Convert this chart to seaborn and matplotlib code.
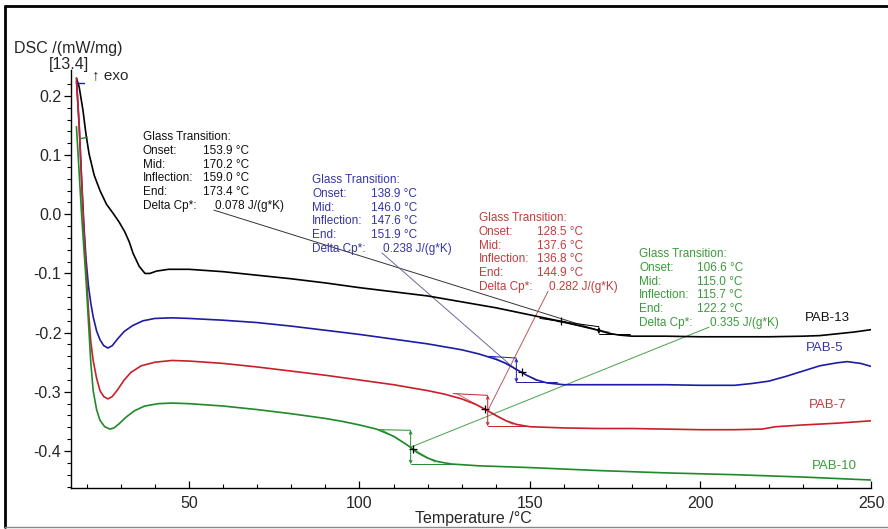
import numpy as np
import pandas as pd
import seaborn as sns
import matplotlib.pyplot as plt
from matplotlib.ticker import MultipleLocator, FormatStrFormatter
from matplotlib.lines import Line2D

# DSC curves (temperature in C, DSC in mW/mg)
t_pab13 = [17.0, 17.8, 18.9, 19.8, 20.7, 22.2, 23.9, 25.8, 27.7, 29.5, 31.2, 32.5, 33.6, 35.4, 37.1,
           38.5, 40.5, 44, 50, 60, 70, 80, 90, 100, 110, 120, 130, 140, 150, 155, 160, 165, 170,
           173, 176, 180, 190, 200, 210, 220, 230, 235, 240, 245, 250]
dsc_pab13 = [0.230, 0.215, 0.176, 0.135, 0.102, 0.066, 0.040, 0.017, 0.002, -0.013, -0.030, -0.047,
             -0.066, -0.088, -0.100, -0.100, -0.096, -0.093, -0.093, -0.097, -0.103, -0.109, -0.116,
             -0.124, -0.131, -0.138, -0.148, -0.158, -0.170, -0.176, -0.182, -0.189, -0.196, -0.201,
             -0.204, -0.206, -0.206, -0.207, -0.207, -0.207, -0.206, -0.205, -0.202, -0.199, -0.195]

t_pab5 = [17.0, 17.8, 18.5, 19.2, 19.8, 20.5, 21.2, 21.9, 22.9, 23.9, 25.0, 26.2, 27.5, 29.0, 31.0,
          33.5, 36.5, 40, 45, 50, 60, 70, 80, 90, 100, 110, 120, 130, 135, 140, 143, 146, 149, 152,
          155, 160, 170, 180, 190, 200, 210, 215, 220, 225, 230, 235, 240, 243, 247, 250]
dsc_pab5 = [0.225, 0.150, 0.060, -0.020, -0.075, -0.120, -0.150, -0.173, -0.197, -0.212, -0.222,
            -0.226, -0.222, -0.211, -0.198, -0.188, -0.180, -0.176, -0.175, -0.176, -0.179, -0.183,
            -0.189, -0.196, -0.203, -0.211, -0.219, -0.229, -0.236, -0.245, -0.252, -0.262, -0.272,
            -0.280, -0.285, -0.288, -0.288, -0.288, -0.288, -0.289, -0.289, -0.286, -0.282, -0.274,
            -0.265, -0.256, -0.251, -0.249, -0.252, -0.257]

t_pab7 = [17.0, 17.8, 18.5, 19.2, 19.8, 20.5, 21.2, 21.9, 22.9, 23.9, 25.0, 26.2, 27.5, 29.0, 31.0,
          33.0, 36.0, 40, 45, 50, 60, 70, 80, 90, 100, 110, 120, 125, 130, 134, 137, 140, 143, 146,
          150, 160, 170, 180, 190, 200, 210, 218, 222, 230, 240, 250]
dsc_pab7 = [0.230, 0.150, 0.060, -0.030, -0.090, -0.160, -0.215, -0.247, -0.277, -0.298, -0.308,
            -0.312, -0.308, -0.297, -0.280, -0.267, -0.256, -0.250, -0.247, -0.248, -0.252, -0.258,
            -0.265, -0.272, -0.280, -0.288, -0.298, -0.304, -0.312, -0.321, -0.330, -0.340, -0.349,
            -0.355, -0.359, -0.361, -0.362, -0.362, -0.363, -0.364, -0.364, -0.363, -0.359, -0.356,
            -0.353, -0.349]

t_pab10 = [17.0, 17.8, 18.5, 19.2, 19.8, 20.5, 21.2, 21.9, 22.9, 23.9, 25.3, 26.8, 28.0, 29.5, 31.5,
           34.0, 37.0, 41, 45, 50, 60, 70, 80, 90, 95, 100, 105, 110, 113, 115, 117, 120, 123, 127,
           135, 150, 170, 190, 210, 230, 250]
dsc_pab10 = [0.148, 0.070, 0.000, -0.060, -0.110, -0.180, -0.250, -0.298, -0.330, -0.348, -0.359,
             -0.363, -0.361, -0.354, -0.343, -0.332, -0.324, -0.320, -0.319, -0.320, -0.324, -0.330,
             -0.337, -0.345, -0.350, -0.356, -0.363, -0.375, -0.386, -0.394, -0.403, -0.412, -0.418,
             -0.422, -0.425, -0.428, -0.433, -0.437, -0.440, -0.444, -0.449]

names = ["PAB-13", "PAB-5", "PAB-7", "PAB-10"]
temps = [t_pab13, t_pab5, t_pab7, t_pab10]
dscs = [dsc_pab13, dsc_pab5, dsc_pab7, dsc_pab10]
curve_colors = ["#000000", "#1c1ca6", "#c8202a", "#1f8a2a"]
text_colors = ["#111111", "#3535a8", "#c43c3c", "#3a9a3a"]
link_colors = ["#333333", "#6a6a9a", "#b45a5a", "#4aa04a"]

# glass transition results (C) and Delta Cp
onset = [153.9, 138.9, 128.5, 106.6]
mid = [170.2, 146.0, 137.6, 115.0]
inflection = [159.0, 147.6, 136.8, 115.7]
end = [173.4, 151.9, 144.9, 122.2]
delta_cp = [0.078, 0.238, 0.282, 0.335]
# step levels of the evaluation construction
step_top_start = [-0.176, -0.240, -0.303, -0.364]
step_top = [-0.190, -0.243, -0.306, -0.365]
step_bottom = [-0.2025, -0.284, -0.358, -0.422]

# where the result boxes and curve names sit (data coords)
box_label_x = [36.5, 86.1, 135.0, 182.0]
box_value_x = [54.1, 103.4, 152.1, 199.0]
box_dcp_x = [57.6, 106.9, 155.6, 202.8]
box_top_y = [0.1305, 0.058, -0.0065, -0.0673]
name_x = [237.1, 236.5, 237.4, 239.4]
name_y = [-0.1754, -0.2265, -0.322, -0.4245]

sns.set_style("white")
plt.rcParams['font.family'] = ['Liberation Sans', 'DejaVu Sans']
plt.rcParams['axes.unicode_minus'] = False

fig = plt.figure(figsize=(8.88, 5.29), dpi=100)
ax = fig.add_axes([71 / 888, 41 / 529, 800 / 888, 414 / 529])

for name, t, d, c in zip(names, temps, dscs, curve_colors):
    df = pd.DataFrame({"Temperature": t, "DSC": d})
    sns.lineplot(data=df, x="Temperature", y="DSC", color=c, lw=1.2, sort=False,
                 estimator=None, ax=ax, zorder=3)

# small start marks at the top left
ax.plot([17.3, 19.3], [0.221, 0.221], color=curve_colors[1], lw=1.0, zorder=4)
ax.plot([18.4, 20.2], [0.128, 0.130], color=curve_colors[3], lw=1.0, zorder=4)

rows = ["Glass Transition:", "Onset:", "Mid:", "Inflection:", "End:", "Delta Cp*:"]
dy = 0.0233
for i in range(4):
    c = curve_colors[i]
    tc = text_colors[i]
    # step construction
    ax.plot([onset[i] - 1, mid[i]], [step_top_start[i], step_top[i]], color=c, lw=0.7, zorder=4)
    ax.plot([mid[i], end[i] + 6], [step_bottom[i], step_bottom[i]], color=c, lw=0.7, zorder=4)
    ax.plot([onset[i], end[i]], [step_top_start[i], step_bottom[i] + 0.003], color=c, lw=0.6,
            alpha=0.8, zorder=4)
    ax.annotate("", xy=(mid[i], step_bottom[i]), xytext=(mid[i], step_top[i]),
                arrowprops=dict(arrowstyle="<->", color=c, lw=0.7, shrinkA=0, shrinkB=0,
                                mutation_scale=5), zorder=4)
    mid_val = (step_top[i] + step_bottom[i]) / 2
    infl_val = np.interp(inflection[i], temps[i], dscs[i])
    ax.plot(inflection[i], infl_val, marker="+", color="#000000", ms=6, mew=0.9, zorder=5)
    # result box
    vals = ["", f"{onset[i]:.1f} °C", f"{mid[i]:.1f} °C", f"{inflection[i]:.1f} °C",
            f"{end[i]:.1f} °C", f"{delta_cp[i]:.3f} J/(g*K)"]
    for k, (lab, val) in enumerate(zip(rows, vals)):
        y = box_top_y[i] - k * dy
        ax.text(box_label_x[i], y, lab, color=tc, fontsize=8.5, va="center", ha="left")
        if val:
            vx = box_dcp_x[i] if k == 5 else box_value_x[i]
            ax.text(vx, y, val, color=tc, fontsize=8.5, va="center", ha="left")
    # link line from Delta Cp to the mid point
    y0 = box_top_y[i] - 5 * dy - 0.007
    ax.plot([box_dcp_x[i] - 0.3, mid[i]], [y0, mid_val], color=link_colors[i], lw=0.7, zorder=2)
    ax.text(name_x[i], name_y[i], names[i], color=text_colors[i], fontsize=9.5,
            ha="center", va="center")

ax.set_xlim(15.4, 250)
ax.set_ylim(-0.4625, 0.237)
ax.set_xlabel("")
ax.set_ylabel("")
for s in ["top", "right"]:
    ax.spines[s].set_visible(False)
for s in ["left", "bottom"]:
    ax.spines[s].set_color("#000000")
    ax.spines[s].set_linewidth(1.0)
ax.spines["left"].set_bounds(-0.4625, 0.244)
ax.spines["left"].set_clip_on(False)

ax.xaxis.set_major_locator(MultipleLocator(50))
ax.xaxis.set_minor_locator(MultipleLocator(10))
ax.yaxis.set_major_locator(MultipleLocator(0.1))
ax.yaxis.set_minor_locator(MultipleLocator(0.02))
ax.yaxis.set_major_formatter(FormatStrFormatter("%.1f"))
ax.tick_params(axis="x", which="both", direction="in", bottom=True, labelsize=11.5, pad=6,
               color="#000000")
ax.tick_params(axis="x", which="major", length=5, width=0.9)
ax.tick_params(axis="x", which="minor", length=3, width=0.8)
ax.tick_params(axis="y", which="both", direction="out", left=True, labelsize=11.5, pad=2,
               color="#000000")
ax.tick_params(axis="y", which="major", length=5, width=0.9)
ax.tick_params(axis="y", which="minor", length=3, width=0.8)

fig.text(14 / 888, 1 - 48 / 529, "DSC /(mW/mg)", fontsize=11.5, ha="left", va="center")
fig.text(49 / 888, 1 - 64 / 529, "[13.4]", fontsize=11.5, ha="left", va="center")
fig.text(92 / 888, 1 - 75 / 529, "↑ exo", fontsize=11, ha="left", va="center")
fig.text(473 / 888, 1 - 519 / 529, "Temperature /°C", fontsize=11.5, ha="center", va="center")

# outer frame of the picture
fig.add_artist(Line2D([5 / 888, 888 / 888], [1 - 6 / 529, 1 - 6 / 529], color="#000000", lw=2))
fig.add_artist(Line2D([5 / 888, 5 / 888], [1 - 6 / 529, 1 - 527 / 529], color="#000000", lw=2))
fig.add_artist(Line2D([5 / 888, 888 / 888], [1 - 527 / 529, 1 - 527 / 529], color="#888888", lw=1))

fig.savefig("out.png", dpi=100)
